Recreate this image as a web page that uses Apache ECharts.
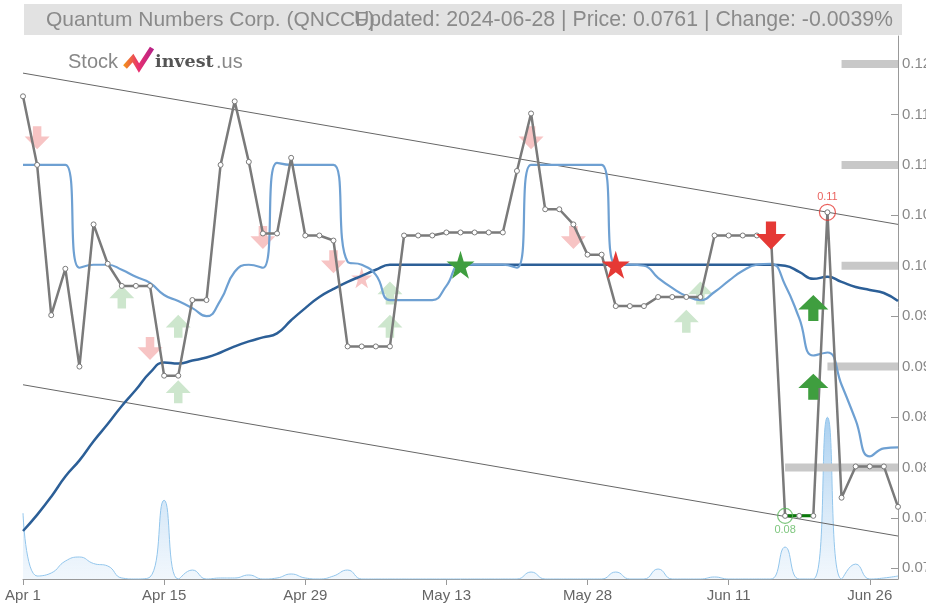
<!DOCTYPE html>
<html><head><meta charset="utf-8">
<script src="https://cdn.jsdelivr.net/npm/echarts@6/dist/echarts.min.js"></script>
<style>html,body{margin:0;padding:0;background:#fff}#c{width:926px;height:607px}</style>
</head><body><div id="c"></div>
<script>
const categories = ['Apr 1','Apr 2','Apr 3','Apr 4','Apr 5','Apr 8','Apr 9','Apr 10','Apr 11','Apr 12',
 'Apr 15','Apr 16','Apr 17','Apr 18','Apr 19','Apr 22','Apr 23','Apr 24','Apr 25','Apr 26',
 'Apr 29','Apr 30','May 1','May 2','May 3','May 6','May 7','May 8','May 9','May 10',
 'May 13','May 14','May 15','May 16','May 17','May 20','May 21','May 22','May 23','May 24',
 'May 28','May 29','May 30','May 31','Jun 3','Jun 4','Jun 5','Jun 6','Jun 7','Jun 10',
 'Jun 11','Jun 12','Jun 13','Jun 14','Jun 17','Jun 18','Jun 20','Jun 21','Jun 24','Jun 25',
 'Jun 26','Jun 27','Jun 28'];
const price = [0.1168,0.1100,0.0951,0.0997,0.0900,0.1041,0.1002,0.0980,0.0980,0.0980,
 0.0891,0.0891,0.0966,0.0966,0.1100,0.1163,0.1103,0.1032,0.1032,0.1107,
 0.1030,0.1030,0.1025,0.0920,0.0920,0.0920,0.0920,0.1030,0.1030,0.1030,
 0.1033,0.1033,0.1033,0.1033,0.1033,0.1094,0.1151,0.1056,0.1056,0.1041,
 0.1011,0.1011,0.0960,0.0960,0.0960,0.0969,0.0969,0.0969,0.0969,0.1030,
 0.1030,0.1030,0.1030,0.1030,0.0752,0.0752,0.0752,0.1053,0.0770,0.0801,
 0.0801,0.0801,0.0761];
const maShort = [0.1100,0.1100,0.1100,0.1100,0.0998,0.1001,0.1001,0.0996,0.0989,0.0983,
 0.0971,0.0965,0.0958,0.0950,0.0966,0.0994,0.1001,0.0998,0.1102,0.1100,
 0.1100,0.1100,0.1100,0.1004,0.1001,0.0991,0.0966,0.0966,0.0966,0.0966,
 0.0980,0.1001,0.1001,0.1001,0.1001,0.0998,0.1100,0.1100,0.1100,0.1100,
 0.1100,0.1100,0.1001,0.1001,0.1000,0.0988,0.0978,0.0970,0.0966,0.0974,
 0.0985,0.0995,0.1001,0.1002,0.0981,0.0948,0.0911,0.0914,0.0882,0.0847,
 0.0811,0.0819,0.0820];
const maLong = [0.0737,0.0753,0.0771,0.0791,0.0807,0.0826,0.0843,0.0861,0.0877,0.0894,
 0.0904,0.0903,0.0906,0.0909,0.0914,0.0920,0.0925,0.0929,0.0933,0.0946,
 0.0958,0.0969,0.0977,0.0984,0.0990,0.0996,0.1001,0.1001,0.1001,0.1001,
 0.1001,0.1001,0.1001,0.1001,0.1001,0.1001,0.1001,0.1001,0.1001,0.1001,
 0.1001,0.1001,0.1001,0.1001,0.1001,0.1001,0.1001,0.1001,0.1001,0.1001,
 0.1001,0.1001,0.1001,0.1001,0.1000,0.0994,0.0987,0.0989,0.0984,0.0979,
 0.0976,0.0973,0.0965];
const volume = [242600,11000,22000,66000,81000,57000,48000,3700,0,7400,
 290000,0,33000,0,3700,3700,14700,0,3700,18400,
 3700,0,11000,33000,0,0,0,0,0,0,
 0,0,0,0,0,0,25700,0,0,0,
 0,0,25700,0,0,36800,0,0,0,7400,
 0,0,0,0,117600,0,0,595500,0,55000,
 0,3700,11000];
const channelUpper = [[0,0.1191],[62,0.1041]];
const channelLower = [[0,0.0882],[62,0.0732]];
const levelValues = [0.12,0.11,0.10,0.09,0.08];
const levelStart = [58,58,58,57,54];
const yTickValues = [0.07,0.075,0.08,0.085,0.09,0.095,0.10,0.105,0.11,0.115,0.12];
const yTickLabels = ['0.07','0.07','0.08','0.08','0.09','0.09','0.10','0.10','0.11','0.11','0.12'];
const sellWeak = [[1,0.1127],[9,0.0918],[17,0.1028],[22,0.1004],[36,0.1127],[39,0.1028]];
const sellStarWeak = [[24,0.0988]];
const buyWeak = [[7,0.0969],[11,0.0940],[11,0.0875],[26,0.0973],[26,0.0940],[47,0.0945],[48,0.0973]];
const buyStar = [[31,0.1001]];
const sellStar = [[42,0.1001]];
const sellStrong = [[53,0.1030]];
const buyStrong = [[56,0.0958],[56,0.0880]];
const highPoint = [[57,0.1053,'0.11']];
const lowPoint = [[54,0.0752,'0.08']];
const lowSegment = [[54,0.0752],[55,0.0752],[56,0.0752]];
const titleLeft = 'Quantum Numbers Corp. (QNCCF)';
const titleRight = 'Updated: 2024-06-28 | Price: 0.0761 | Change: -0.0039%';

const DOWN = 'path://M33,0 L67,0 L67,45 L100,45 L50,100 L0,45 L33,45 Z';
const UP = 'path://M50,0 L100,55 L67,55 L67,100 L33,100 L33,55 L0,55 Z';
const STAR = 'path://M50,0 L61,35 L98,35 L68,57 L79,91 L50,70 L21,91 L32,57 L2,35 L39,35 Z';
const FONT = '"Liberation Sans", Arial, sans-serif';

const chart = echarts.init(document.getElementById('c'));
const levelSeries = levelValues.map((v, i) => ({
  type: 'line', data: [[levelStart[i], v], [62, v]], symbol: 'none', silent: true,
  lineStyle: {color: '#c8c8c8', width: 8}, z: 1, animation: false
}));
function scatter(data, symbol, size, color, z) {
  return {type: 'scatter', data: data, symbol: symbol, symbolSize: size,
    itemStyle: {color: color, opacity: 1}, z: z, silent: true, animation: false};
}
chart.setOption({
  animation: false,
  grid: {left: 23, right: 28, top: 36, bottom: 28, containLabel: false, outerBoundsMode: 'none'},
  xAxis: {
    type: 'category', data: categories, boundaryGap: false,
    axisLine: {lineStyle: {color: '#999', width: 1}},
    axisTick: {interval: 9, length: 6, lineStyle: {color: '#999'}},
    axisLabel: {interval: 9, color: '#666', fontSize: 15, fontFamily: FONT, margin: 9},
    splitLine: {show: false}
  },
  yAxis: [{
    type: 'value', position: 'right', min: 0.06894, max: 0.12278, scale: true,
    axisLine: {show: true, lineStyle: {color: '#999'}},
    axisTick: {show: true, inside: true, length: 7, customValues: yTickValues, lineStyle: {color: '#999'}},
    axisLabel: {customValues: yTickValues, color: '#888', fontSize: 15, fontFamily: FONT, margin: 4,
      formatter: v => yTickLabels[yTickValues.findIndex(t => Math.abs(t - v) < 1e-6)] || ''},
    splitLine: {show: false}
  }, {
    type: 'value', min: 0, max: 2000000, show: false, splitLine: {show: false}
  }],
  graphic: [
    {type: 'rect', shape: {x: 24, y: 4, width: 878, height: 31}, style: {fill: '#e2e2e2'}, z: 10},
    {type: 'text', x: 46, y: 20, style: {text: titleLeft, fill: '#8a8a8a', font: '21px ' + FONT, textVerticalAlign: 'middle'}, z: 11},
    {type: 'text', x: 893, y: 20, style: {text: titleRight, fill: '#8a8a8a', font: '21.3px ' + FONT, textAlign: 'right', textVerticalAlign: 'middle'}, z: 11},
    {type: 'text', x: 68, y: 62, style: {text: 'Stock', fill: '#888', font: '20px ' + FONT, textVerticalAlign: 'middle'}, z: 11},
    {type: 'polyline', shape: {points: [[125, 67], [133, 58], [139, 68], [152, 48]]},
      style: {stroke: new echarts.graphic.LinearGradient(0, 0, 1, 0, [{offset: 0, color: '#f39c12'}, {offset: 0.5, color: '#e8306f'}, {offset: 1, color: '#b0208a'}]), lineWidth: 5, lineJoin: 'miter'}, z: 11},
    {type: 'text', x: 155, y: 62, style: {text: 'invest', fill: '#555', font: 'bold 17.5px "DejaVu Serif", serif', textVerticalAlign: 'middle'}, z: 11},
    {type: 'text', x: 216, y: 62, style: {text: '.us', fill: '#888', font: '20px ' + FONT, textVerticalAlign: 'middle'}, z: 11}
  ],
  series: [
    {type: 'line', data: volume, yAxisIndex: 1, smooth: true, symbol: 'none', z: 1,
      lineStyle: {color: '#93c6ec', width: 1},
      areaStyle: {color: new echarts.graphic.LinearGradient(0, 0, 0, 1, [{offset: 0, color: 'rgba(110,175,230,0.85)'}, {offset: 1, color: 'rgba(215,232,248,0.5)'}])}},
    ...levelSeries,
    {type: 'line', data: channelUpper, symbol: 'none', lineStyle: {color: '#666', width: 1}, z: 2},
    {type: 'line', data: channelLower, symbol: 'none', lineStyle: {color: '#666', width: 1}, z: 2},
    scatter(sellWeak, DOWN, [25, 23], '#f7c4c4', 2),
    scatter(sellStarWeak, STAR, 21, '#f7c4c4', 2),
    scatter(buyWeak, UP, [25, 23], '#cde6cd', 2),
    {type: 'line', data: maLong, smooth: true, symbol: 'none', lineStyle: {color: '#2c5f97', width: 2.5}, z: 3},
    {type: 'line', data: maShort, smooth: true, symbol: 'none', lineStyle: {color: '#6ea0d2', width: 2.2}, z: 3},
    {type: 'line', data: price, symbol: 'circle', symbolSize: 5, showSymbol: true,
      lineStyle: {color: '#7a7a7a', width: 2.5}, itemStyle: {color: '#fff', borderColor: '#7a7a7a', borderWidth: 1}, z: 4},
    {type: 'line', data: lowSegment, symbol: 'none', lineStyle: {color: '#0a7a0a', width: 3}, z: 4},
    scatter(buyStar, STAR, 28, '#3f9e3f', 6),
    scatter(sellStar, STAR, 28, '#e53935', 6),
    scatter(sellStrong, DOWN, [30, 28], '#e53935', 6),
    scatter(buyStrong, UP, [30, 26], '#3f9e3f', 6),
    {type: 'scatter', data: highPoint, symbol: 'circle', symbolSize: 16, z: 7,
      itemStyle: {color: 'rgba(0,0,0,0)', borderColor: '#e53935', borderWidth: 1.2},
      label: {show: true, position: 'top', distance: 1, formatter: p => p.data[2], color: '#e53935', fontSize: 11, fontFamily: FONT}},
    {type: 'scatter', data: lowPoint, symbol: 'circle', symbolSize: 15, z: 7,
      itemStyle: {color: 'rgba(0,0,0,0)', borderColor: '#5cb85c', borderWidth: 1.2},
      label: {show: true, position: 'bottom', distance: 1, formatter: p => p.data[2], color: '#5cb85c', fontSize: 11, fontFamily: FONT}}
  ]
});
</script></body></html>
